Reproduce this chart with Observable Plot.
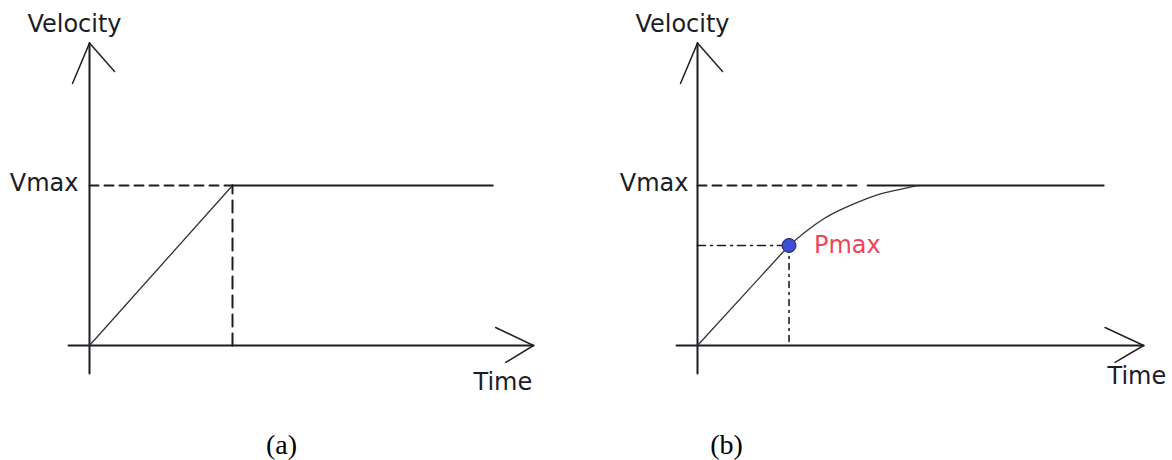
<!DOCTYPE html>
<html>
<head>
<meta charset="utf-8">
<script src="https://cdn.jsdelivr.net/npm/d3@7"></script>
<script src="https://cdn.jsdelivr.net/npm/@observablehq/plot@0.6"></script>
<style>
  html, body { margin: 0; padding: 0; background: #fff; }
  #wrap { display: flex; width: 1172px; height: 460px; }
</style>
</head>
<body>
<div id="wrap"></div>
<script>
// ---- shared values (time and velocity units, Vmax = 1) ----
const panelLabels = ["(a)", "(b)"];
const vmax = 1;
const vLabel = "Velocity";
const tLabel = "Time";
const vmaxLabel = "Vmax";
const pmaxLabel = "Pmax";

// y-axis line and its arrowhead
const yAxisV = [-0.175, 1.89];
const yArrowT = [-0.119, 0, 0.175];
const yArrowV = [1.6375, 1.89, 1.7125];

// ---- panel (a) ----
const xAxisA_T = [-0.147, 3.105];
const xArrowA_T = [2.84, 3.105, 2.91];
const xArrowA_V = [0.1125, 0, -0.106];
const rampA_T = [0, 1];
const rampA_V = [0, 1];
const plateauA_T = [1, 2.82];
const vmaxDashA_T = [0, 1];
const tReachA = 1;

// ---- panel (b) ----
const xAxisB_T = [-0.147, 3.12];
const xArrowB_T = [2.85, 3.12, 2.92];
const xArrowB_V = [0.1125, 0, -0.106];
const rampB_T = [0, 0.64];
const rampB_V = [0, 0.625];
const curveB_T = [0.64, 0.767, 0.883, 1.093, 1.28, 1.513, 1.54];
const curveB_V = [0.625, 0.719, 0.792, 0.885, 0.948, 0.994, 1];
const plateauB_T = [1.19, 2.84];
const vmaxDashB_T = [0, 1.13];
const pmaxT = 0.64;
const pmaxV = 0.625;

const textFont = "'DejaVu Sans', 'Open Sans', sans-serif";
const ink = "#1c1c24";

function panel(o) {
  const marks = [
    // axes
    Plot.line(yAxisV, {x: yAxisV.map(() => 0), y: yAxisV, stroke: ink, strokeWidth: 2}),
    Plot.line(o.xAxisT, {x: o.xAxisT, y: o.xAxisT.map(() => 0), stroke: ink, strokeWidth: 2}),
    Plot.line(yArrowT, {x: yArrowT, y: yArrowV, stroke: "#222", strokeWidth: 1.5}),
    Plot.line(o.xArrowT, {x: o.xArrowT, y: o.xArrowV, stroke: "#222", strokeWidth: 1.5}),
    // Vmax dashed reference
    Plot.line(o.vmaxDashT, {x: o.vmaxDashT, y: o.vmaxDashT.map(() => vmax), stroke: ink, strokeWidth: 2, strokeDasharray: "9,6"}),
    // plateau
    Plot.line(o.plateauT, {x: o.plateauT, y: o.plateauT.map(() => vmax), stroke: ink, strokeWidth: 2}),
    // labels
    Plot.text([vLabel], {x: -0.105, y: 2.01, text: d => d, fontSize: 24, fontFamily: textFont, fill: ink}),
    Plot.text([tLabel], {x: o.timeT, y: o.timeV, text: d => d, fontSize: 24, fontFamily: textFont, fill: ink, textAnchor: "start"}),
    Plot.text([vmaxLabel], {x: 0, y: vmax, dx: o.vmaxDx, dy: -2, text: d => d, fontSize: 24, fontFamily: textFont, fill: ink, textAnchor: "end"}),
    Plot.text([o.caption], {x: o.capT, y: -0.62, text: d => d, fontSize: 28, fontFamily: "'Liberation Serif', 'Times New Roman', serif", fill: "#000"})
  ];
  return Plot.plot({
    width: 586,
    height: 460,
    margin: 0,
    x: {domain: [0, 1], range: [o.ox, o.ox + 143], axis: null},
    y: {domain: [0, 1], range: [345, 185], axis: null},
    marks: marks.concat(o.extra)
  });
}

const wrap = document.getElementById("wrap");

wrap.appendChild(panel({
  ox: 89,
  xAxisT: xAxisA_T, xArrowT: xArrowA_T, xArrowV: xArrowA_V,
  vmaxDashT: vmaxDashA_T, plateauT: plateauA_T,
  timeT: 2.685, timeV: -0.231, vmaxDx: -11,
  caption: panelLabels[0], capT: 1.343,
  extra: [
    Plot.line(rampA_T, {x: rampA_T, y: rampA_V, stroke: "#333", strokeWidth: 1.3}),
    Plot.line([0, vmax], {x: [tReachA, tReachA], y: [0, vmax], stroke: ink, strokeWidth: 2, strokeDasharray: "12,7"})
  ]
}));

wrap.appendChild(panel({
  ox: 111,
  xAxisT: xAxisB_T, xArrowT: xArrowB_T, xArrowV: xArrowB_V,
  vmaxDashT: vmaxDashB_T, plateauT: plateauB_T,
  timeT: 2.867, timeV: -0.19, vmaxDx: -9,
  caption: panelLabels[1], capT: 0.203,
  extra: [
    Plot.line(rampB_T, {x: rampB_T, y: rampB_V, stroke: "#333", strokeWidth: 1.3}),
    Plot.line(curveB_T, {x: curveB_T, y: curveB_V, curve: "monotone-x", stroke: "#333", strokeWidth: 1.3}),
    Plot.line([0, pmaxT], {x: [0, pmaxT], y: [pmaxV, pmaxV], stroke: ink, strokeWidth: 1.6, strokeDasharray: "8,5,2,5"}),
    Plot.line([pmaxV, 0], {x: [pmaxT, pmaxT], y: [pmaxV, 0], stroke: ink, strokeWidth: 1.6, strokeDasharray: "6,5,2,5"}),
    Plot.dot([pmaxT], {x: pmaxT, y: pmaxV, r: 7, fill: "#3b4fd0", stroke: "#1a2370", strokeWidth: 1}),
    Plot.text([pmaxLabel], {x: pmaxT, y: pmaxV, dx: 25, text: d => d, fontSize: 24, fontFamily: textFont, fill: "#f0445a", textAnchor: "start"})
  ]
}));
</script>
</body>
</html>
